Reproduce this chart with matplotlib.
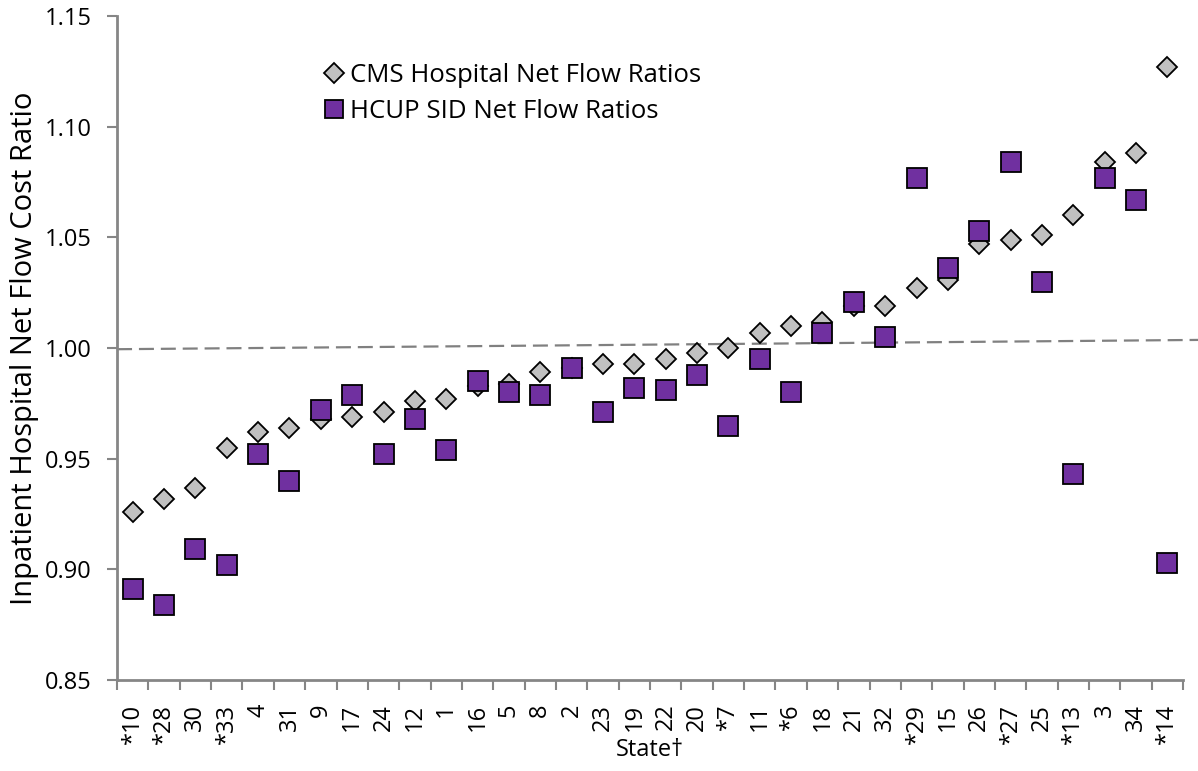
import numpy as np
import matplotlib.pyplot as plt

plt.rcParams['font.family'] = ['Open Sans', 'DejaVu Sans']

grayColor = "#c0c0c0"
purpleColor = "#7030a0"
axisColor = "#868686"

# State labels along the x axis (sorted by the CMS ratio)
states = ['*10', '*28', '30', '*33', '4', '31', '9', '17', '24', '12', '1',
          '16', '5', '8', '2', '23', '19', '22', '20', '*7', '11', '*6',
          '18', '21', '32', '*29', '15', '26', '*27', '25', '*13', '3',
          '34', '*14']

# CMS Hospital Net Flow Ratios
cms = [0.926, 0.932, 0.937, 0.955, 0.962, 0.964, 0.968, 0.969, 0.971, 0.976,
       0.977, 0.983, 0.984, 0.989, 0.991, 0.993, 0.993, 0.995, 0.998, 1.000,
       1.007, 1.010, 1.012, 1.019, 1.019, 1.027, 1.031, 1.047, 1.049, 1.051,
       1.060, 1.084, 1.088, 1.127]

# HCUP SID Net Flow Ratios
hcup = [0.891, 0.884, 0.909, 0.902, 0.952, 0.940, 0.972, 0.979, 0.952, 0.968,
        0.954, 0.985, 0.980, 0.979, 0.991, 0.971, 0.982, 0.981, 0.988, 0.965,
        0.995, 0.980, 1.007, 1.021, 1.005, 1.077, 1.036, 1.053, 1.084, 1.030,
        0.943, 1.077, 1.067, 0.903]

# reference line (starts at left axis, runs to the right edge of the figure)
refX = [-0.5, 34.0]
refY = [0.9995, 1.0037]

x = np.arange(len(states))

fig = plt.figure(figsize=(11.98, 7.71), dpi=100, facecolor='w')
ax = fig.add_axes([0.0977, 0.118, 0.8898, 0.861])

ax.plot(refX, refY, color='#808080', lw=1.6, ls=(0, (6.75, 3.1)), clip_on=False, zorder=1)
ax.plot(x, cms, ls='none', marker='D', ms=10.3, mfc=grayColor, mec='black',
        mew=1.3, label='CMS Hospital Net Flow Ratios', zorder=2)
ax.plot(x, hcup, ls='none', marker='s', ms=14, mfc=purpleColor, mec='black',
        mew=1.3, label='HCUP SID Net Flow Ratios', zorder=3)

ax.set_xlim(-0.5, len(states) - 0.5)
ax.set_ylim(0.85, 1.15)
yt = np.arange(0.85, 1.151, 0.05)
ax.set_yticks(yt)
ax.set_yticklabels(['%.2f' % v for v in yt], fontsize=17)

ax.set_xticks(x)
ax.set_xticklabels(states, rotation=90, fontsize=17)
ax.set_xticks(np.arange(-0.5, len(states), 1.0), minor=True)
ax.tick_params(axis='x', which='major', length=0, pad=17)
ax.tick_params(axis='x', which='minor', length=7, width=1.5, color=axisColor)
ax.tick_params(axis='y', length=7, width=1.5, color=axisColor, pad=11)

for spine in ('top', 'right'):
    ax.spines[spine].set_visible(False)
for spine in ('left', 'bottom'):
    ax.spines[spine].set_color(axisColor)
    ax.spines[spine].set_linewidth(2)

ax.set_xlabel('State\u2020', fontsize=17, labelpad=-4)
ax.set_ylabel('Inpatient Hospital Net Flow Cost Ratio', fontsize=21, labelpad=4)

legend = ax.legend(loc='upper left', bbox_to_anchor=(0.19, 0.93), frameon=False,
                   fontsize=18.5, handletextpad=0.1, labelspacing=0.45,
                   borderaxespad=0, borderpad=0, handlelength=1.1)
legend.legend_handles[0].set_markersize(10.5)
legend.legend_handles[1].set_markersize(13)

fig.savefig('out.png', dpi=100)
